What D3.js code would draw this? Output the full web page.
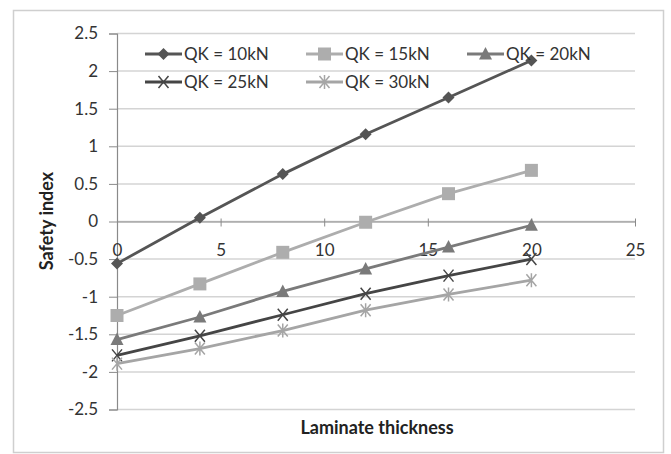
<!DOCTYPE html>
<html>
<head>
<meta charset="utf-8">
<script src="https://cdn.jsdelivr.net/npm/d3@7/dist/d3.min.js"></script>
<style>
  html, body { margin: 0; padding: 0; background: #fff; }
  svg { display: block; }
  text { font-family: Lato, "Open Sans", sans-serif; }
</style>
</head>
<body>
<svg id="chart" width="671" height="454"></svg>
<script>
// Laminate thickness values (x) shared by all series
const thickness = [0, 4, 8, 12, 16, 20];

// Safety index for each load level
const qk10 = [-0.56, 0.05, 0.63, 1.16, 1.65, 2.14];
const qk15 = [-1.25, -0.83, -0.41, -0.01, 0.37, 0.68];
const qk20 = [-1.57, -1.27, -0.93, -0.63, -0.34, -0.05];
const qk25 = [-1.78, -1.52, -1.24, -0.96, -0.72, -0.50];
const qk30 = [-1.89, -1.69, -1.45, -1.18, -0.97, -0.78];

const seriesNames = ["QK = 10kN", "QK = 15kN", "QK = 20kN", "QK = 25kN", "QK = 30kN"];
const xTicks = [0, 5, 10, 15, 20, 25];
const yTicks = [-2.5, -2, -1.5, -1, -0.5, 0, 0.5, 1, 1.5, 2, 2.5];

const series = [
  { name: seriesNames[0], values: qk10, color: "#555555", marker: "diamond" },
  { name: seriesNames[1], values: qk15, color: "#adadad", marker: "square" },
  { name: seriesNames[2], values: qk20, color: "#7a7a7a", marker: "triangle" },
  { name: seriesNames[3], values: qk25, color: "#454545", marker: "x" },
  { name: seriesNames[4], values: qk30, color: "#a5a5a5", marker: "star" }
];

const svg = d3.select("#chart");

// outer chart frame
svg.append("rect")
  .attr("x", 13.5).attr("y", 10.5)
  .attr("width", 650).attr("height", 442)
  .attr("fill", "#fff").attr("stroke", "#cfcfcf").attr("stroke-width", 1.5);

const x = d3.scaleLinear().domain([0, 25]).range([117, 635]);
const y = d3.scaleLinear().domain([-2.5, 2.5]).range([409.5, 33.5]);

// horizontal gridlines
svg.append("g").selectAll("line")
  .data(yTicks)
  .join("line")
  .attr("x1", x(0)).attr("x2", x(25))
  .attr("y1", d => y(d)).attr("y2", d => y(d))
  .attr("stroke", "#d4d4d4").attr("stroke-width", 1.5);

// y axis
const yAxis = svg.append("g")
  .attr("transform", `translate(${x(0)},0)`)
  .call(d3.axisLeft(y).tickValues(yTicks).tickSize(8).tickPadding(11)
    .tickFormat(d => String(d)));
yAxis.select(".domain").attr("stroke", "#8a8a8a").attr("stroke-width", 1.2);
yAxis.selectAll(".tick line").attr("stroke", "#8a8a8a");
yAxis.selectAll(".tick text")
  .attr("font-size", 17).attr("fill", "#333")
  .style("font-family", "Lato, 'Open Sans', sans-serif");

// x axis, crossing at y = 0
const xAxis = svg.append("g")
  .attr("transform", `translate(0,${y(0)})`)
  .call(d3.axisBottom(x).tickValues(xTicks).tickSize(5).tickPadding(17)
    .tickSizeOuter(0));
xAxis.select(".domain").attr("stroke", "#8a8a8a").attr("stroke-width", 1.2);
xAxis.selectAll(".tick line").attr("stroke", "#8a8a8a").attr("y1", -3);
xAxis.selectAll(".tick text")
  .attr("font-size", 17).attr("fill", "#333")
  .style("font-family", "Lato, 'Open Sans', sans-serif");

// axis titles
svg.append("text")
  .attr("x", 377).attr("y", 434)
  .attr("text-anchor", "middle")
  .attr("font-size", 18).attr("font-weight", "bold").attr("fill", "#222")
  .text("Laminate thickness");

svg.append("text")
  .attr("transform", "translate(53,221) rotate(-90)")
  .attr("text-anchor", "middle")
  .attr("font-size", 18).attr("font-weight", "bold").attr("fill", "#222")
  .text("Safety index");

// marker drawing
function drawMarker(g, type, color) {
  if (type === "diamond") {
    g.append("path").attr("d", "M0,-6L6,0L0,6L-6,0Z").attr("fill", color);
  } else if (type === "square") {
    g.append("rect").attr("x", -6.5).attr("y", -6.5).attr("width", 13).attr("height", 13).attr("fill", color);
  } else if (type === "triangle") {
    g.append("path").attr("d", "M0,-7L6.5,5.5L-6.5,5.5Z").attr("fill", color);
  } else if (type === "x") {
    g.append("path").attr("d", "M-5,-6L5,6M5,-6L-5,6")
      .attr("stroke", color).attr("stroke-width", 1.5).attr("fill", "none");
  } else if (type === "star") {
    g.append("path").attr("d", "M-5,-6L5,6M5,-6L-5,6M0,-7L0,7")
      .attr("stroke", color).attr("stroke-width", 1.5).attr("fill", "none");
  }
}

const line = d3.line().x((d, i) => x(thickness[i])).y(d => y(d));

// series lines and markers
series.forEach(s => {
  const g = svg.append("g");
  g.append("path")
    .datum(s.values)
    .attr("d", line)
    .attr("fill", "none")
    .attr("stroke", s.color)
    .attr("stroke-width", 2.8);
  s.values.forEach((v, i) => {
    const m = g.append("g").attr("transform", `translate(${x(thickness[i])},${y(v)})`);
    drawMarker(m, s.marker, s.color);
  });
});

// legend: two rows of three entries
const legendPos = [
  [145, 54], [306, 54], [467, 54],
  [145, 82], [306, 82]
];
series.forEach((s, i) => {
  const [lx, ly] = legendPos[i];
  const g = svg.append("g").attr("transform", `translate(${lx},${ly})`);
  g.append("line").attr("x1", 0).attr("x2", 37).attr("y1", 0).attr("y2", 0)
    .attr("stroke", s.color).attr("stroke-width", 2.8);
  const m = g.append("g").attr("transform", "translate(18.5,0)");
  drawMarker(m, s.marker, s.color);
  g.append("text")
    .attr("x", 39).attr("y", 6)
    .attr("font-size", 17).attr("fill", "#333")
    .text(s.name);
});
</script>
</body>
</html>
